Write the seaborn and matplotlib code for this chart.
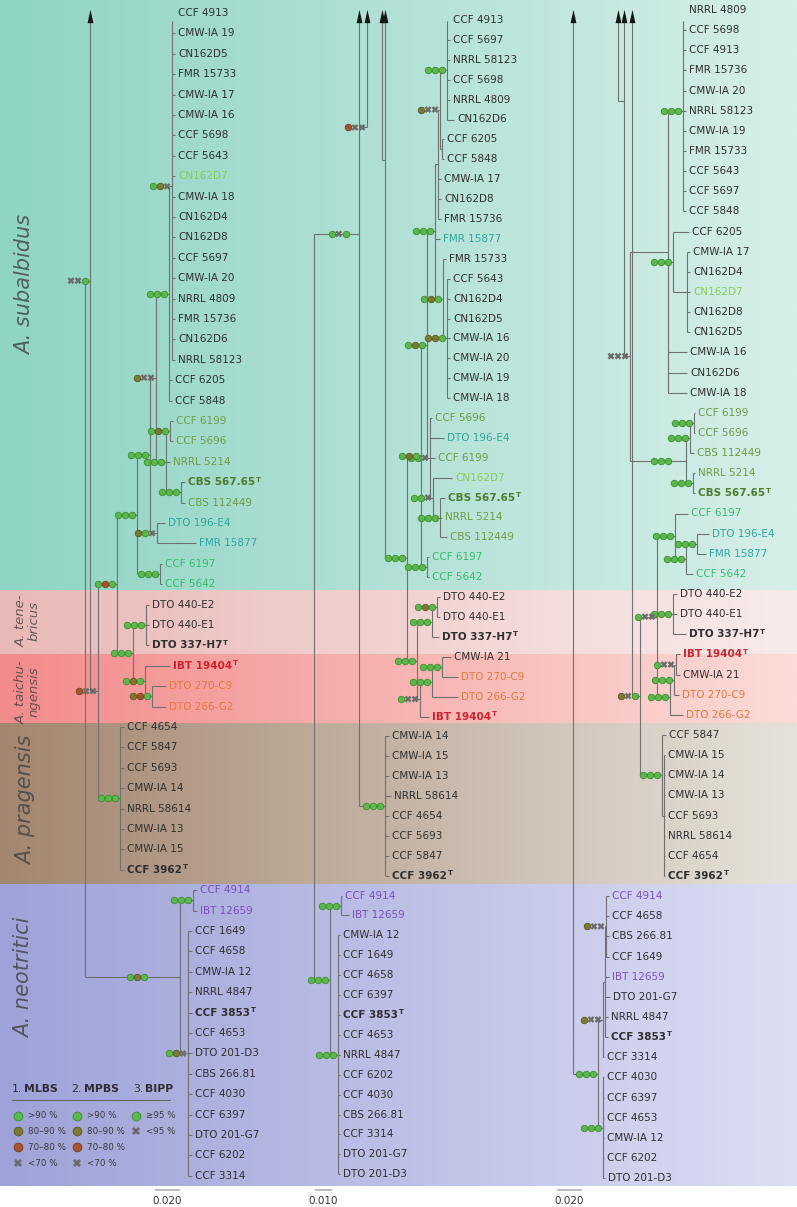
import re
import numpy as np
import pandas as pd
import matplotlib
matplotlib.use("Agg")
import matplotlib.pyplot as plt
from matplotlib.collections import LineCollection
from matplotlib.colors import to_rgb
from matplotlib.markers import MarkerStyle
from matplotlib.transforms import offset_copy
import seaborn as sns

# ------------------------------------------------------------------ data
# Newick clades: branch lengths in substitutions/site, internal labels are the
# three support codes (MLBS, MPBS, BIPP): g >90/≥95, o 80-90, b 70-80, x below.
# "^r" = truncated long branch (arrow), r = virtual row of that branch.
TIP_LEN = 0.0024

# ---- tree 1
T1_A1 = ("(CCF_4913,CMW-IA_19,CN162D5,FMR_15733,CMW-IA_17,CMW-IA_16,CCF_5698,CCF_5643,"
         "CN162D7,CMW-IA_18,CN162D4,CN162D8,CCF_5697,CMW-IA_20,NRRL_4809,FMR_15736,"
         "CN162D6,NRRL_58123)gox:0.0024")
T1_B = f"({T1_A1},CCF_6205,CCF_5848)ggg:0.0104"
T1_D = ("((CCF_6199,CCF_5696)gog:0.0032,NRRL_5214:0.0032,"
        "(CBS_567.65:0.0032,CBS_112449:0.0032)ggg:0.012)ggg:0.008")
T1_C = f"({T1_B},{T1_D})oxx:0.0048"
T1_H = "(DTO_196-E4:0.0064,FMR_15877:0.0312)ogx:0.0056"
T1_C2 = f"({T1_C},{T1_H})ggg:0.0104"
T1_G = "(CCF_6197:0.0016,CCF_5642:0.0016)ggg:0.0184"
T1_SUB = f"({T1_C2},{T1_G})ggg:0.016"
T1_TEN = "(DTO_440-E2,DTO_440-E1,DTO_337-H7)ggg:0.0104"
T1_TAI = "(IBT_19404:0.02,(DTO_270-C9:0.0112,DTO_266-G2:0.0112)obg:0.0056)gog:0.0096"
T1_TT = f"({T1_TEN},{T1_TAI})ggg:0.0128"
T1_S = f"({T1_SUB},{T1_TT})gbg:0.0152"
T1_PRAG = ("(CCF_4654:0.0032,CCF_5847:0.0032,CCF_5693:0.0032,CMW-IA_14:0.0032,NRRL_58614:0.0032,"
           "CMW-IA_13:0.0032,CMW-IA_15:0.0032,CCF_3962:0.0032)ggg:0.0176")
T1_P1 = f"({T1_S},{T1_PRAG})bxx:0.0064"
T1_Q = f"(^-7:0,{T1_P1})xxg:0.004"
T1_NEO = ("((CCF_4914:0.0032,IBT_12659:0.0032)ggg:0.0104,(CCF_1649:0.0032,CCF_4658:0.0032,"
          "CMW-IA_12:0.0032,NRRL_4847:0.0032,CCF_3853:0.0032,CCF_4653:0.0032,DTO_201-D3:0.0032,"
          "CBS_266.81:0.0032,CCF_4030:0.0032,CCF_6397:0.0032,DTO_201-G7:0.0032,CCF_6202:0.0032,"
          "CCF_3314:0.0032)gox:0.0064)gog:0.076")
TREE1 = f"({T1_Q},{T1_NEO});"

# ---- tree 2
T2_T1 = ("(CCF_4913:0.0018,CCF_5697:0.0018,NRRL_58123:0.0018,CCF_5698:0.0018,"
         "NRRL_4809:0.0018,CN162D6:0.0042)ggg:0.0042")
T2_T2 = "(CCF_6205:0.0012,CCF_5848:0.0012):0.0012"
T2_T = f"({T2_T1},{T2_T2})oxx:0.0012"
T2_U = f"({T2_T},CMW-IA_17:0.0018,CN162D8:0.0018,FMR_15736:0.0018):0.0018"
T2_X = ("(CCF_5643:0.0018,CN162D4:0.0018,CN162D5:0.0018,CMW-IA_16:0.0018,CMW-IA_20:0.0018,"
        "CMW-IA_19:0.0018,CMW-IA_18:0.0018)oog:0.0024")
T2_W = f"(FMR_15733:0.0018,{T2_X})gog:0.0048"
T2_V = f"({T2_U},FMR_15877:0.003,{T2_W})ggg:0.0048"
T2_S5 = "(CBS_567.65:0.003,NRRL_5214:0.0012,CBS_112449:0.0042)ggg:0.0042"
T2_S4 = f"(CN162D7:0.0114,{T2_S5})ggx:0.0018"
T2_S3 = f"(CCF_5696:0.0012,DTO_196-E4:0.0084,CCF_6199:0.003,{T2_S4})ggx:0.0018"
T2_S1 = f"({T2_V},{T2_S3})gog:0.0036"
T2_G2 = "(CCF_6197:0.0012,CCF_5642:0.0012)ggg:0.0036"
T2_SUB = f"({T2_S1},{T2_G2})gog:0.0084"
T2_TE1 = "(DTO_440-E2:0.0018,DTO_440-E1:0.0018)gog:0.003"
T2_TEN = f"({T2_TE1},DTO_337-H7:0.0042)ggg:0.009"
T2_TI3 = "(CMW-IA_21:0.0054,DTO_270-C9:0.0096)ggg:0.006"
T2_TI2 = f"({T2_TI3},DTO_266-G2:0.0156)ggg:0.0072"
T2_TI1 = f"({T2_TI2},IBT_19404:0.0054)gxx:0.0018"
T2_TT = f"({T2_TEN},{T2_TI1})ggg:0.006"
T2_SUBT = f"({T2_SUB},{T2_TT})ggg:0.0132"
T2_D = f"(^-13:0,{T2_SUBT}):0.0018"
T2_C = f"(^-30:0,{T2_D}):0.0138"
T2_PRAG = "(CMW-IA_14,CMW-IA_15,CMW-IA_13,NRRL_58614:0.0036,CCF_4654,CCF_5693,CCF_5847,CCF_3962)ggg:0.0156"
T2_A = f"(^-18:0,{T2_C},^5.4/bxx:0.0048,{T2_PRAG})gxg:0.027"
T2_N1 = "(CCF_4914:0.0006,IBT_12659:0.0048)ggg:0.0066"
T2_N2 = ("(CMW-IA_12:0.0012,CCF_1649:0.0012,CCF_4658:0.0012,CCF_6397:0.0012,CCF_3853:0.0012,"
         "CCF_4653:0.0012,NRRL_4847:0.0012,CCF_6202:0.0012,CCF_4030:0.0012,CBS_266.81:0.0012,"
         "CCF_3314:0.0012,DTO_201-G7:0.0012,DTO_201-D3:0.0012)ggg:0.0048")
T2_NEO = f"({T2_N1},{T2_N2})ggg:0.0096"
TREE2 = f"({T2_A},{T2_NEO});"

# ---- tree 3
T3_K1 = ("(NRRL_4809,CCF_5698,CCF_4913,FMR_15736,CMW-IA_20,NRRL_58123,CMW-IA_19,FMR_15733,"
         "CCF_5643,CCF_5697,CCF_5848)ggg:0.012")
T3_K2 = "(CMW-IA_17,CN162D4,CN162D7,CN162D8,CN162D5):0.0112"
T3_KA2 = f"(CCF_6205:0.0128,{T3_K2})ggg:0.004"
T3_KA = f"({T3_K1},{T3_KA2},CMW-IA_16:0.0152,CN162D6:0.0152,CMW-IA_18:0.0152):0.0304"
T3_SBD = "(CCF_6199:0.0008,CCF_5696:0.0008)ggg:0.0032"
T3_SBB = f"({T3_SBD},CBS_112449:0.0032)ggg:0.0032"
T3_SBC = "(NRRL_5214:0.0016,CBS_567.65:0.0016)ggg:0.0056"
T3_SBA = f"({T3_SBB},{T3_SBC})ggg:0.0448"
T3_R = f"({T3_KA},{T3_SBA})xxx:0.0048"
T3_Q = f"(^-8.2:0,{T3_R}):0.0048"
T3_P = f"(^-40:0,{T3_Q}):0.036"
T3_G5 = "(DTO_196-E4:0.0096,FMR_15877:0.0072)ggg:0.0088"
T3_G4 = f"({T3_G5},CCF_5642:0.0056)ggg:0.0088"
T3_G3 = f"(CCF_6197:0.0104,{T3_G4})ggg:0.0144"
T3_TEN = "(DTO_440-E2:0.0032,DTO_440-E1:0.0032,DTO_337-H7:0.0104)ggg:0.0128"
T3_TB = "(IBT_19404:0.0032,CMW-IA_21:0.0032)gxx:0.0016"
T3_TA = f"({T3_TB},DTO_270-C9:0.004)ggg:0.0032"
T3_TAI = f"({T3_TA},DTO_266-G2:0.0104)ggg:0.0104"
T3_MA = f"({T3_G3},{T3_TEN},{T3_TAI})gxx:0.0136"
T3_PB = ("(CMW-IA_15:0.0008,CMW-IA_14:0.0008,CMW-IA_13:0.0008,CCF_5693:0.0008,"
         "NRRL_58614:0.0008,CCF_4654:0.0008,CCF_3962:0.0008):0.0016")
T3_PRAG = f"(CCF_5847:0.0032,{T3_PB})ggg:0.0176"
T3_M = f"({T3_MA},{T3_PRAG})oxg:0.0064"
T3_MP = f"(^-45:0,{T3_M}):0.0472"
T3_NA1 = "(CCF_4914,CCF_4658,CBS_266.81,CCF_1649)oxx:0.0008"
T3_NA2 = f"({T3_NA1},IBT_12659:0.0032,DTO_201-G7:0.004,NRRL_4847:0.0024,CCF_3853:0.0024):0.0016"
T3_NA = f"({T3_NA2},CCF_3314:0.0008)oxx:0.004"
T3_NB = ("(CCF_4030:0.0008,CCF_6397:0.0008,CCF_4653:0.0008,CMW-IA_12:0.0008,CCF_6202:0.0008,"
         "DTO_201-D3:0.0016)ggg:0.004")
T3_NEO = f"({T3_NA},{T3_NB})ggg:0.02"
TREE3 = f"(^-10:0,{T3_P},{T3_MP},{T3_NEO});"

TREES = [TREE1, TREE2, TREE3]

TYPE_STRAINS = ["CBS 567.65", "DTO 337-H7", "IBT 19404", "CCF 3962", "CCF 3853"]
TIP_COLORS = {
    "CN162D7": "#86cc55",
    "CCF 6199": "#6f9c45", "CCF 5696": "#6f9c45", "NRRL 5214": "#6f9c45", "CBS 112449": "#6f9c45",
    "CBS 567.65": "#4e7d2b",
    "DTO 196-E4": "#2ea79e", "FMR 15877": "#2ea79e",
    "CCF 6197": "#33bd6b", "CCF 5642": "#33bd6b",
    "IBT 19404": "#d2202c",
    "DTO 270-C9": "#e2793a", "DTO 266-G2": "#e2793a",
    "CCF 4914": "#7a4fbf", "IBT 12659": "#7a4fbf",
}

SPECIES = ["A. subalbidus", "A. tene-\nbricus", "A. taichu-\nngensis", "A. pragensis", "A. neotritici"]
BAND_EDGES = [0, 590, 654, 723, 884, 1186]
BAND_LEFT = ["#8fd4c4", "#e9b9b7", "#f28b8b", "#a3866f", "#9ea2d8"]
BAND_RIGHT = ["#d6efe9", "#f8ecea", "#fcdcd8", "#e6e2db", "#dcdef3"]

SCALE_VALUES = [0.020, 0.010, 0.020]
SCALE_LABELS = ["0.020", "0.010", "0.020"]

SUPPORT_FILL = {"g": "#5aba48", "o": "#7c7a2f", "b": "#a4552a", "x": "#6c6c6c"}
SUPPORT_EDGE = {"g": "#3f8c33", "o": "#5a5920", "b": "#7a3b1c", "x": "#6c6c6c"}

LEGEND_HEAD = [("1.", "MLBS"), ("2.", "MPBS"), ("3.", "BIPP")]
LEGEND_ITEMS = [
    [("g", ">90 %"), ("o", "80–90 %"), ("b", "70–80 %"), ("x", "<70 %")],
    [("g", ">90 %"), ("o", "80–90 %"), ("b", "70–80 %"), ("x", "<70 %")],
    [("g", "≥95 %"), ("x", "<95 %")],
]

# ------------------------------------------------------------------ layout
W, H = 797, 1207
LAYOUT = [
    dict(root_px=85, ppu=1250, y0=13, dy=20.4, bar_px=155),
    dict(root_px=314, ppu=1667, y0=20, dy=19.9, bar_px=315),
    dict(root_px=573, ppu=1250, y0=10, dy=20.14, bar_px=557),
]
SPECIES_POS = [(25, 285, 15), (28, 621, 9.5), (28, 692, 9.5), (26, 800, 15), (24, 978, 15)]
LINE_COLOR = "#707070"
TEXT_COLOR = "#2f2f2f"
LABEL_FS = 7.5

sns.set_theme(style="white")
plt.rcParams["font.family"] = ["DejaVu Sans"]


def parse_newick(s):
    s = re.sub(r"\s+", "", s).rstrip(";")
    pos = 0

    def node():
        nonlocal pos
        kids = []
        if s[pos] == "(":
            pos += 1
            while True:
                kids.append(node())
                ch = s[pos]
                pos += 1
                if ch == ")":
                    break
        m = re.match(r"[^:,()]*", s[pos:])
        label = m.group(0)
        pos += len(label)
        length = None
        if pos < len(s) and s[pos] == ":":
            m = re.match(r":[-+0-9.eE]+", s[pos:])
            length = float(m.group(0)[1:])
            pos += len(m.group(0))
        return {"label": label, "len": length, "children": kids}

    return node()


def layout(root):
    tips, nodes = [], []
    row = [0]

    def walk(n, x, px):
        n["x"], n["px"] = x, px
        if n["children"]:
            for c in n["children"]:
                if c["len"] is not None:
                    L = c["len"]
                elif c["children"] or c["label"].startswith("^"):
                    L = 0.0
                else:
                    L = TIP_LEN
                walk(c, x + L, x)
            ys = [c["y"] for c in n["children"]]
            n["ymin"], n["ymax"] = min(ys), max(ys)
            n["y"] = 0.5 * (n["ymin"] + n["ymax"])
            n["sup"] = n["label"]
            nodes.append(n)
        else:
            lab = n["label"]
            if lab.startswith("^"):
                r, _, sup = lab[1:].partition("/")
                n.update(arrow=True, y=float(r), sup=sup)
            else:
                n.update(arrow=False, y=float(row[0]), sup="", name=lab.replace("_", " "))
                row[0] += 1
            tips.append(n)

    walk(root, 0.0, 0.0)
    return tips, nodes


fig = plt.figure(figsize=(W / 100, H / 100), dpi=100)

# ---- background bands
bg = fig.add_axes([0, 0, 1, 1])
bg.axis("off")
t = np.linspace(0, 1, 256)[None, :, None]
for i in range(len(SPECIES)):
    c0 = np.array(to_rgb(BAND_LEFT[i]))
    c1 = np.array(to_rgb(BAND_RIGHT[i]))
    img = c0 + (c1 - c0) * t
    bg.imshow(img, extent=(0, W, BAND_EDGES[i + 1], BAND_EDGES[i]), aspect="auto",
              interpolation="bilinear", origin="upper", zorder=0)
bg.set_xlim(0, W)
bg.set_ylim(H, 0)

for name, (sx, sy, fs) in zip(SPECIES, SPECIES_POS):
    bg.text(sx, sy, name, rotation=90, fontsize=fs, style="italic", ha="center", va="center",
            color="#3f3f3f", alpha=0.78, multialignment="center", linespacing=1.0)

# ---- legend
hx_num = [12, 71, 133]
hx_word = [24, 84, 145]
for (num, word), xn, xw in zip(LEGEND_HEAD, hx_num, hx_word):
    bg.text(xn, 1089, num, fontsize=7.8, ha="left", va="center", color=TEXT_COLOR)
    bg.text(xw, 1089, word, fontsize=7.8, fontweight="bold", ha="left", va="center", color=TEXT_COLOR)
bg.plot([12, 170], [1100, 1100], color="#666666", lw=0.8)
leg_mx = [18, 77, 136]
leg_y = [1116, 1131, 1147, 1163]
for col, items in enumerate(LEGEND_ITEMS):
    for r, (code, lab) in enumerate(items):
        mk = "X" if code == "x" else "o"
        sns.scatterplot(x=[leg_mx[col]], y=[leg_y[r]], ax=bg, marker=mk, s=40 if mk == "o" else 34,
                        color=SUPPORT_FILL[code], edgecolor=SUPPORT_EDGE[code] if mk == "o" else "none",
                        linewidth=0.6, legend=False, zorder=5)
        bg.text(leg_mx[col] + 10, leg_y[r], lab, fontsize=6.3, ha="left", va="center", color="#3a3a3a")
bg.set_xlim(0, W)
bg.set_ylim(H, 0)

ARROW = MarkerStyle([(-0.22, -0.5), (0.22, -0.5), (0.0, 0.5)])

# ---- trees
for tree_str, lay, sval, slab in zip(TREES, LAYOUT, SCALE_VALUES, SCALE_LABELS):
    ax = fig.add_axes([0, 0, 1, 1])
    ax.axis("off")
    ax.patch.set_alpha(0)
    ppu, rpx, y0, dy = lay["ppu"], lay["root_px"], lay["y0"], lay["dy"]
    xlim = (-rpx / ppu, (W - rpx) / ppu)
    ylim = ((H - y0) / dy, -y0 / dy)
    ax.set_xlim(*xlim)
    ax.set_ylim(*ylim)

    tips, nodes = layout(parse_newick(tree_str))
    ytop = (21 - y0) / dy
    yarrow = (16 - y0) / dy

    segs = []
    for n in nodes:
        lo, hi = max(n["ymin"], ytop), n["ymax"]
        if hi > lo:
            segs.append([(n["x"], lo), (n["x"], hi)])
        for c in n["children"]:
            if c["y"] >= ytop and c["x"] > n["x"]:
                segs.append([(n["x"], c["y"]), (c["x"], c["y"])])
    arrows = [tp for tp in tips if tp["arrow"]]
    for a in arrows:
        if a["y"] > ytop:
            segs.append([(a["x"], a["y"]), (a["x"], ytop)])
    ax.add_collection(LineCollection(segs, colors=LINE_COLOR, linewidths=0.8, capstyle="butt", zorder=2))

    ax.scatter([a["x"] for a in arrows], [yarrow] * len(arrows), marker=ARROW, s=92,
               color="#151515", linewidths=0, zorder=4)

    # support markers
    recs = []
    for n in nodes + arrows:
        if not n["sup"] or n["y"] < ytop:
            continue
        node_px = n["x"] * ppu + rpx
        par_px = n["px"] * ppu + rpx
        center = min(node_px - 12, par_px + 0.55 * (node_px - par_px))
        for k, code in enumerate(n["sup"]):
            cx = center + (k - 1) * 7
            recs.append(dict(x=(cx - rpx) / ppu, y=n["y"], code=code))
    df = pd.DataFrame(recs)
    for code in "gob":
        sub = df[df["code"] == code]
        if len(sub):
            sns.scatterplot(data=sub, x="x", y="y", ax=ax, marker="o", s=22,
                            color=SUPPORT_FILL[code], edgecolor=SUPPORT_EDGE[code],
                            linewidth=0.6, legend=False, zorder=5)
    sub = df[df["code"] == "x"]
    if len(sub):
        sns.scatterplot(data=sub, x="x", y="y", ax=ax, marker="X", s=24,
                        color=SUPPORT_FILL["x"], edgecolor="none", linewidth=0,
                        legend=False, zorder=5)

    # tip labels
    tr = offset_copy(ax.transData, fig=fig, x=3, y=0, units="dots")
    for tp in tips:
        if tp["arrow"]:
            continue
        name = tp["name"]
        is_type = name in TYPE_STRAINS
        col = TIP_COLORS.get(name, TEXT_COLOR)
        txt = ax.text(tp["x"], tp["y"], name, transform=tr, fontsize=LABEL_FS, ha="left",
                      va="center", color=col, fontweight="bold" if is_type else "normal", zorder=6)
        if is_type:
            ax.annotate("T", xy=(1, 1), xycoords=txt, xytext=(0.6, 0.5), textcoords="offset points",
                        fontsize=5, fontweight="bold", color=col, ha="left", va="top", zorder=6)

    # scale bar
    x0 = (lay["bar_px"] - rpx) / ppu
    yb = (1190 - y0) / dy
    ax.plot([x0, x0 + sval], [yb, yb], color="#b5b5b5", lw=1.3, solid_capstyle="butt")
    ax.text(x0 + sval / 2, (1201 - y0) / dy, slab, ha="center", va="center",
            fontsize=7.5, color="#333333")
    ax.set_xlim(*xlim)
    ax.set_ylim(*ylim)

fig.savefig("out.png", dpi=100)
